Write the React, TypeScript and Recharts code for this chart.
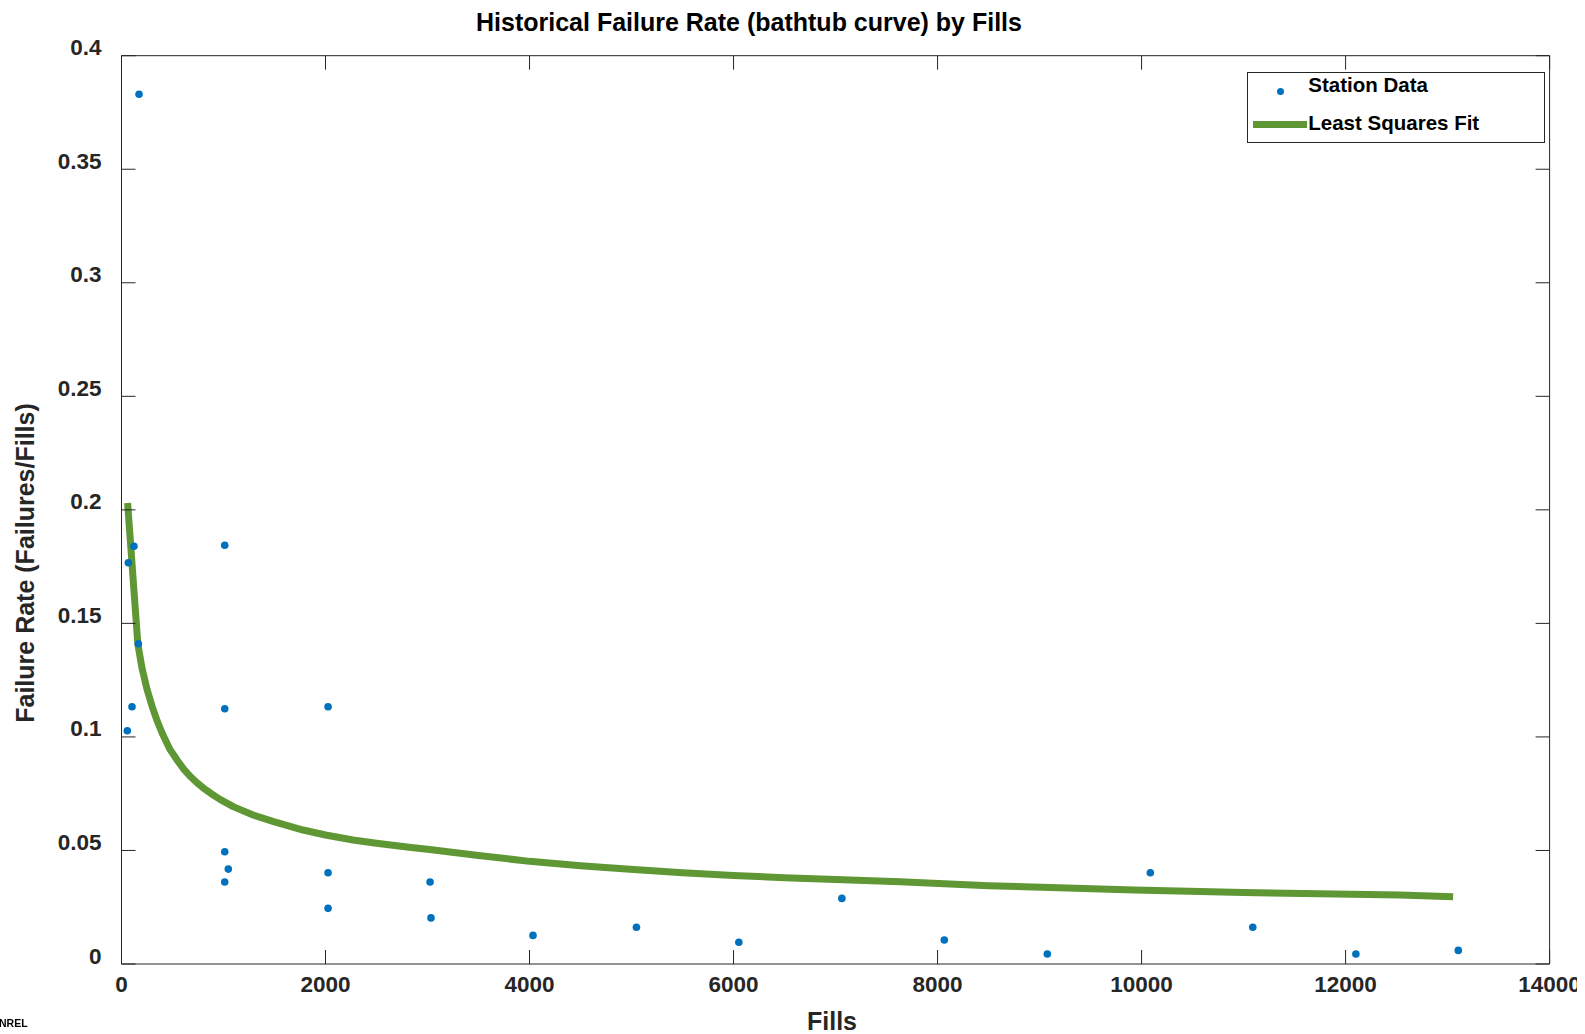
import React from "react";
import { ScatterChart, Scatter, XAxis, YAxis } from "recharts";

const stationFills = [57, 67, 103, 122, 165, 172, 1012, 1012, 1012, 1047, 1012, 2025, 2025, 2025, 3025, 3034, 4034, 5048, 6052, 7062, 8066, 9076, 10086, 11090, 12101, 13105];
const stationRate = [0.1027, 0.1767, 0.1133, 0.184, 0.141, 0.383, 0.1844, 0.1124, 0.0494, 0.0418, 0.0361, 0.1133, 0.0402, 0.0245, 0.0361, 0.0203, 0.0126, 0.0162, 0.0096, 0.0289, 0.0106, 0.0044, 0.0402, 0.0162, 0.0044, 0.006];

const fitFills = [60, 160, 200, 250, 300, 350, 400, 475, 550, 610, 670, 740, 800, 880, 970, 1100, 1290, 1500, 1780, 2000, 2270, 2500, 2860, 3000, 3500, 4000, 4500, 4985, 5500, 6000, 6500, 7000, 7632, 8500, 9929, 11000, 12534, 13054];
const fitRate = [0.203, 0.141, 0.1305, 0.121, 0.1135, 0.107, 0.1015, 0.0945, 0.0895, 0.0858, 0.0828, 0.0798, 0.0776, 0.075, 0.0724, 0.0692, 0.0656, 0.0626, 0.059, 0.0568, 0.0546, 0.0532, 0.0512, 0.0505, 0.0478, 0.0452, 0.0433, 0.0417, 0.0402, 0.039, 0.038, 0.0372, 0.0362, 0.0345, 0.0326, 0.0315, 0.0304, 0.0296];

const xTicks = [0, 2000, 4000, 6000, 8000, 10000, 12000, 14000];
const yTicks = [0, 0.05, 0.1, 0.15, 0.2, 0.25, 0.3, 0.35, 0.4];

const title = "Historical Failure Rate (bathtub curve) by Fills";
const xLabel = "Fills";
const yLabel = "Failure Rate (Failures/Fills)";
const seriesNames = ["Station Data", "Least Squares Fit"];
const footer = "NREL";

const stationData = stationFills.map((x, i) => ({ x, y: stationRate[i] }));
const fitData = fitFills.map((x, i) => ({ x, y: fitRate[i] }));

const FONT = "'Liberation Sans', Arial, Helvetica, sans-serif";
const AX = "#262626";
const BLUE = "#0072BD";
const GREEN = "#5e9733";
const TICK_LEN = 14;
const TICK_FS = 22.5;

const BottomTick = (p: any) => (
  <g>
    <line x1={p.x} y1={p.y} x2={p.x} y2={p.y - TICK_LEN} stroke={AX} strokeWidth={1} />
    <text x={p.x} y={p.y + 20} textAnchor="middle" dominantBaseline="central" fontFamily={FONT} fontWeight="bold" fontSize={TICK_FS} fill={AX}>
      {String(p.payload.value)}
    </text>
  </g>
);
const TopTick = (p: any) => (
  <line x1={p.x} y1={p.y} x2={p.x} y2={p.y + TICK_LEN} stroke={AX} strokeWidth={1} />
);
const LeftTick = (p: any) => (
  <g>
    <line x1={p.x} y1={p.y} x2={p.x + TICK_LEN} y2={p.y} stroke={AX} strokeWidth={1} />
    <text x={p.x - 20} y={p.y - 8} textAnchor="end" dominantBaseline="central" fontFamily={FONT} fontWeight="bold" fontSize={TICK_FS} fill={AX}>
      {String(p.payload.value)}
    </text>
  </g>
);
const RightTick = (p: any) => (
  <line x1={p.x} y1={p.y} x2={p.x - TICK_LEN} y2={p.y} stroke={AX} strokeWidth={1} />
);

const Dot = (p: any) => <circle cx={p.cx} cy={p.cy} r={3.8} fill={BLUE} />;
const NoShape = () => <g />;

export default function App() {
  return (
    <div style={{ position: "relative", width: 1577, height: 1026, fontFamily: FONT }}>
      <ScatterChart width={1577} height={1026} margin={{ top: 37.7, right: 25.4, left: 53.5, bottom: 10 }}>
        <XAxis xAxisId="b" type="number" dataKey="x" orientation="bottom" domain={[0, 14000]} ticks={xTicks} height={60}
          tickSize={0} tickMargin={0} tickLine={false} axisLine={{ stroke: AX, strokeWidth: 1 }} tick={<BottomTick />} allowDataOverflow />
        <XAxis xAxisId="t" type="number" dataKey="x" orientation="top" domain={[0, 14000]} ticks={xTicks} height={10}
          tickSize={0} tickMargin={0} tickLine={false} axisLine={{ stroke: AX, strokeWidth: 1 }} tick={<TopTick />} allowDataOverflow />
        <YAxis yAxisId="l" type="number" dataKey="y" orientation="left" domain={[0, 0.4]} ticks={yTicks} width={60}
          tickSize={0} tickMargin={0} tickLine={false} axisLine={{ stroke: AX, strokeWidth: 1 }} tick={<LeftTick />} allowDataOverflow />
        <YAxis yAxisId="r" type="number" dataKey="y" orientation="right" domain={[0, 0.4]} ticks={yTicks} width={10}
          tickSize={0} tickMargin={0} tickLine={false} axisLine={{ stroke: AX, strokeWidth: 1 }} tick={<RightTick />} allowDataOverflow />
        <Scatter name={seriesNames[1]} data={fitData} xAxisId="t" yAxisId="r" isAnimationActive={false}
          line={{ stroke: GREEN, strokeWidth: 7, strokeLinejoin: "round" }} shape={<NoShape />} />
        <Scatter name={seriesNames[0]} data={stationData} xAxisId="b" yAxisId="l" isAnimationActive={false} shape={<Dot />} fill={BLUE} />
      </ScatterChart>

      <div style={{ position: "absolute", left: 741, top: -1, transform: "translateX(-50%)", whiteSpace: "nowrap", fontSize: 25, lineHeight: "30px", fontWeight: "bold", color: "#000" }}>
        {title}
      </div>
      <div style={{ position: "absolute", left: 824, top: 998, transform: "translateX(-50%)", whiteSpace: "nowrap", fontSize: 25, lineHeight: "30px", fontWeight: "bold", color: AX }}>
        {xLabel}
      </div>
      <div style={{ position: "absolute", left: 17, top: 555, transform: "translate(-50%, -50%) rotate(-90deg)", whiteSpace: "nowrap", fontSize: 25, lineHeight: "30px", fontWeight: "bold", color: AX }}>
        {yLabel}
      </div>
      <div style={{ position: "fixed", left: -1, top: 1017, whiteSpace: "nowrap", fontSize: 10.5, lineHeight: "12px", fontWeight: "bold", color: "#000" }}>
        {footer}
      </div>

      <div style={{ position: "absolute", left: 1239.3, top: 63.7, width: 296, height: 69, border: `1px solid ${AX}`, background: "#fff" }}>
        <div style={{ position: "absolute", left: 28.5, top: 15.5, width: 7, height: 7, borderRadius: "50%", background: BLUE }} />
        <div style={{ position: "absolute", left: 60, top: 0, lineHeight: "24px", fontSize: 20.5, fontWeight: "bold", color: "#000", whiteSpace: "nowrap" }}>
          {seriesNames[0]}
        </div>
        <div style={{ position: "absolute", left: 5, top: 48, width: 54, height: 7, background: GREEN }} />
        <div style={{ position: "absolute", left: 60, top: 38, lineHeight: "24px", fontSize: 20.5, fontWeight: "bold", color: "#000", whiteSpace: "nowrap" }}>
          {seriesNames[1]}
        </div>
      </div>
    </div>
  );
}
